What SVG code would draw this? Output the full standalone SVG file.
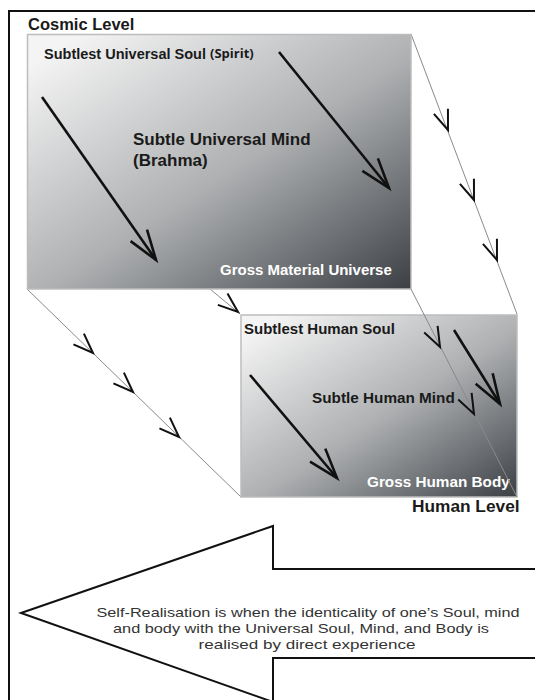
<svg xmlns="http://www.w3.org/2000/svg" xmlns:xlink="http://www.w3.org/1999/xlink" width="535" height="700" viewBox="0 0 535 700">
<style>
.lbl{font-family:"Liberation Sans",Arial,sans-serif;font-weight:bold;fill:#1a1a1a}
.wlbl{font-family:"Liberation Sans",Arial,sans-serif;font-weight:bold;fill:#ffffff}
.note{font-family:"Liberation Sans",Arial,sans-serif;font-size:13.5px;fill:#333}
.conn{stroke:#8a8a8a;stroke-width:1;fill:none}
.thick{stroke:#111;stroke-width:2.6;fill:none;marker-end:url(#head)}
.panel{stroke:#bdbdbd;stroke-width:1.5}
</style>
<defs>
<linearGradient id="g" x1="0.08" y1="0.05" x2="1" y2="1">
<stop offset="0" stop-color="#f4f4f4"/>
<stop offset="0.5" stop-color="#aeb0b2"/>
<stop offset="1" stop-color="#3c4045"/>
</linearGradient>
<marker id="head" markerUnits="userSpaceOnUse" markerWidth="40" markerHeight="40" refX="0" refY="0" viewBox="-35 -20 40 40" orient="auto" overflow="visible">
<path d="M-30,-10 L0,0 L-30,10" fill="none" stroke="#111" stroke-width="2.6"/>
</marker>
<path id="v" d="M-20,-7.5 L0,0 L-20,7.5" fill="none" stroke="#111" stroke-width="2"/>
</defs>
<rect x="9" y="11" width="600" height="720" fill="#fff" stroke="#111" stroke-width="2"/>
<g id="connectors">
<line class="conn" x1="411" y1="34" x2="517" y2="314"/>
<line class="conn" x1="27" y1="289" x2="241" y2="497"/>
<line class="conn" x1="210" y1="289" x2="240" y2="314"/>
<use xlink:href="#v" transform="translate(448,130) rotate(69.3)"/>
<use xlink:href="#v" transform="translate(474,200) rotate(69.3)"/>
<use xlink:href="#v" transform="translate(497,260) rotate(69.3)"/>
<use xlink:href="#v" transform="translate(93,353) rotate(44.2)"/>
<use xlink:href="#v" transform="translate(133,392) rotate(44.2)"/>
<use xlink:href="#v" transform="translate(179,437) rotate(44.2)"/>
<use xlink:href="#v" transform="translate(238,312) rotate(40)"/>
</g>
<g id="cosmic">
<rect class="panel" x="27.5" y="34.5" width="383.5" height="254.5" fill="url(#g)"/>
<text class="lbl" x="28" y="30" font-size="16.5">Cosmic Level</text>
<text class="lbl" x="44" y="59" font-size="14.5">Subtlest Universal Soul</text>
<text x="210" y="58" font-family="'Open Sans',sans-serif" font-weight="bold" font-size="13" fill="#1a1a1a">(Spirit)</text>
<text class="lbl" x="133" y="145" font-size="17">Subtle Universal Mind</text>
<text class="lbl" x="133" y="166" font-size="17">(Brahma)</text>
<text class="wlbl" x="220" y="275" font-size="15">Gross Material Universe</text>
<line class="thick" x1="42" y1="97" x2="156" y2="260"/>
<line class="thick" x1="279" y1="52" x2="389" y2="188"/>
</g>
<g id="human">
<rect class="panel" x="241" y="315" width="276" height="182" fill="url(#g)"/>
<text class="lbl" x="244" y="334" font-size="15">Subtlest Human Soul</text>
<text class="lbl" x="312" y="403" font-size="15.3">Subtle Human Mind</text>
<text class="wlbl" x="367" y="487" font-size="15.3">Gross Human Body</text>
<text class="lbl" x="412" y="512" font-size="17.3">Human Level</text>
<line class="thick" x1="250" y1="375" x2="337" y2="478"/>
<line class="thick" x1="454" y1="330" x2="500" y2="404"/>
</g>
<g id="connectors2">
<line class="conn" x1="411" y1="289" x2="517" y2="497"/>
<use xlink:href="#v" transform="translate(440,347) rotate(63)"/>
<use xlink:href="#v" transform="translate(474,414) rotate(63)"/>
</g>
<g id="realisation">
<path d="M21,613 L273,526 L273,569 L560,569 L560,658 L273,658 L273,702 Z" fill="#fff" stroke="#111" stroke-width="2"/>
<text class="note" x="308" y="617" text-anchor="middle" textLength="423" lengthAdjust="spacingAndGlyphs">Self-Realisation is when the identicality of one’s Soul, mind</text>
<text class="note" x="301" y="633" text-anchor="middle" textLength="376" lengthAdjust="spacingAndGlyphs">and body with the Universal Soul, Mind, and Body is</text>
<text class="note" x="307" y="649" text-anchor="middle" textLength="217" lengthAdjust="spacingAndGlyphs">realised by direct experience</text>
</g>
</svg>
